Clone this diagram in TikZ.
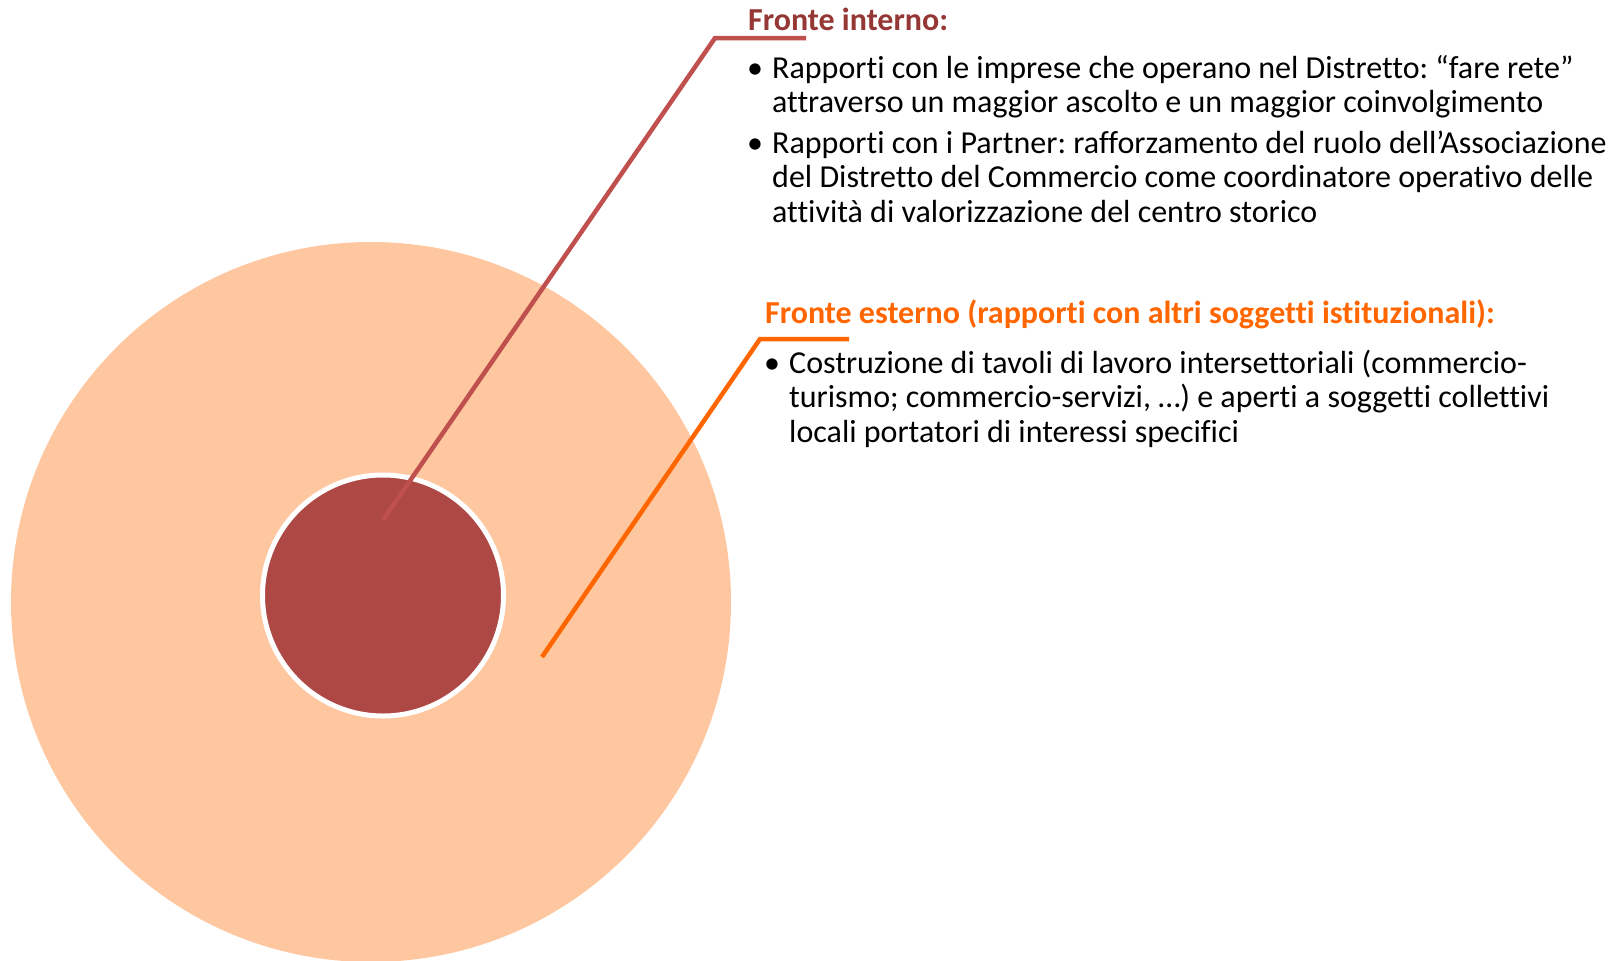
\documentclass[tikz,border=0pt]{standalone}
\usepackage{fontspec}
\setmainfont{Carlito}[Ligatures=NoCommon]
\frenchspacing

\definecolor{pesca}{HTML}{FEC7A0}
\definecolor{bordeaux}{HTML}{AD4845}
\definecolor{rossolinea}{HTML}{C0504D}
\definecolor{rossotitolo}{HTML}{953735}
\definecolor{arancio}{HTML}{FF6600}

\newcommand{\righe}[1]{\begin{tabular}[t]{@{}l@{}}#1\end{tabular}}

\tikzset{
    testo/.style={inner sep=0pt, anchor=base west,
        font=\fontsize{32}{34.5}\selectfont},
    titolo/.style={testo, font=\fontsize{32}{34.5}\selectfont\bfseries},
    linea/.style={line width=4.5pt, line join=miter}
}

\begin{document}
\begin{tikzpicture}[x=1pt,y=-1pt]

    \useasboundingbox (0,0) rectangle (1623,961);

    % cerchi
    \fill[pesca] (371,602) circle (360);
    \filldraw[fill=bordeaux, draw=white, line width=5pt] (383,595.5) circle (120.5);

    % fronte interno
    \coordinate (interno) at (383,520);
    \coordinate (gomitoI) at (715,38);
    \coordinate (fineI) at (806,38);
    \draw[linea, rossolinea] (interno) -- (gomitoI) -- (fineI);

    \node[titolo, text=rossotitolo] (titoloI) at (748,30) {Fronte interno:};
    \node[testo] (puntoIa) at (747,78) {•};
    \node[testo] (testoIa) at (772,78) {\righe{Rapporti con le imprese che operano nel Distretto: “fare rete”\\
        attraverso un maggior ascolto e un maggior coinvolgimento}};
    \node[testo] (puntoIb) at (747,153) {•};
    \node[testo] (testoIb) at (772,153) {\righe{Rapporti con i Partner: rafforzamento del ruolo dell’Associazione\\
        del Distretto del Commercio come coordinatore operativo delle\\
        attività di valorizzazione del centro storico}};

    % fronte esterno
    \coordinate (esterno) at (542,657);
    \coordinate (gomitoE) at (760,339);
    \coordinate (fineE) at (849,339);
    \draw[linea, arancio] (esterno) -- (gomitoE) -- (fineE);

    \node[titolo, text=arancio] (titoloE) at (765,323) {Fronte esterno (rapporti con altri soggetti istituzionali):};
    \node[testo] (puntoE) at (764,373) {•};
    \node[testo] (testoE) at (789,373) {\righe{Costruzione di tavoli di lavoro intersettoriali (commercio-\\
        turismo; commercio-servizi, …) e aperti a soggetti collettivi\\
        locali portatori di interessi specifici}};

\end{tikzpicture}
\end{document}
